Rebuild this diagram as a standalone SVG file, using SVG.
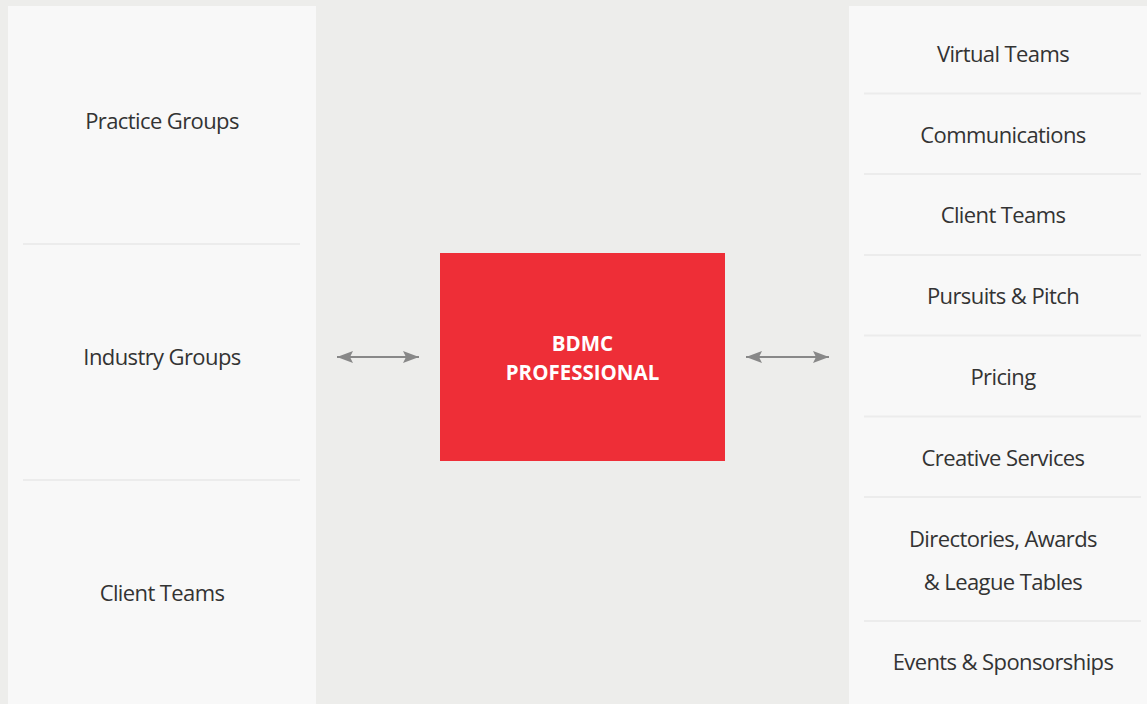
<svg xmlns="http://www.w3.org/2000/svg" width="1147" height="704" viewBox="0 0 1147 704">
  <defs>
    <style>
      .panel { fill: #f8f8f8; }
      .rule { stroke: #ececec; stroke-width: 2; }
      .label { font-family: "Open Sans", "Noto Sans", "Liberation Sans", sans-serif; font-size: 22px; fill: #333333; text-anchor: middle; letter-spacing: -0.6px; }
      .core { font-family: "Open Sans", "Noto Sans", "Liberation Sans", sans-serif; font-size: 20.5px; font-weight: 700; fill: #ffffff; text-anchor: middle; }
      .link { stroke: #888888; stroke-width: 2.2; fill: none; }
      .head { fill: #888888; }
    </style>
    <marker id="tip" viewBox="0 0 16 12" refX="16" refY="6" markerWidth="16" markerHeight="12" markerUnits="userSpaceOnUse" orient="auto-start-reverse">
      <path class="head" d="M16,6 L0,0 L3,6 L0,12 Z"/>
    </marker>
  </defs>

  <rect x="0" y="0" width="1147" height="704" fill="#ededeb"/>

  <!-- left column -->
  <g id="left-panel">
    <rect class="panel" x="8" y="6" width="308" height="698"/>
    <line class="rule" x1="23" y1="244" x2="300" y2="244"/>
    <line class="rule" x1="23" y1="480" x2="300" y2="480"/>
  </g>
  <g id="practice-groups"><text class="label" x="162" y="129">Practice Groups</text></g>
  <g id="industry-groups"><text class="label" x="162" y="365">Industry Groups</text></g>
  <g id="client-teams-left"><text class="label" x="162" y="601">Client Teams</text></g>

  <!-- centre node -->
  <g id="bdmc-professional">
    <rect x="440" y="253" width="285" height="208" fill="#ee2e37"/>
    <text class="core" x="582.5" y="351">BDMC</text>
    <text class="core" x="582.5" y="380">PROFESSIONAL</text>
  </g>

  <!-- right column -->
  <g id="right-panel">
    <rect class="panel" x="849" y="6" width="310" height="698"/>
    <line class="rule" x1="864" y1="93.5" x2="1141" y2="93.5"/>
    <line class="rule" x1="864" y1="174" x2="1141" y2="174"/>
    <line class="rule" x1="864" y1="255" x2="1141" y2="255"/>
    <line class="rule" x1="864" y1="335.5" x2="1141" y2="335.5"/>
    <line class="rule" x1="864" y1="416.5" x2="1141" y2="416.5"/>
    <line class="rule" x1="864" y1="497" x2="1141" y2="497"/>
    <line class="rule" x1="864" y1="621" x2="1141" y2="621"/>
  </g>
  <g id="virtual-teams"><text class="label" x="1003" y="62">Virtual Teams</text></g>
  <g id="communications"><text class="label" x="1003" y="143">Communications</text></g>
  <g id="client-teams-right"><text class="label" x="1003" y="223">Client Teams</text></g>
  <g id="pursuits-pitch"><text class="label" x="1003" y="304">Pursuits &amp; Pitch</text></g>
  <g id="pricing"><text class="label" x="1003" y="385">Pricing</text></g>
  <g id="creative-services"><text class="label" x="1003" y="466">Creative Services</text></g>
  <g id="directories-awards">
    <text class="label" x="1003" y="547">Directories, Awards</text>
    <text class="label" x="1003" y="590">&amp; League Tables</text>
  </g>
  <g id="events-sponsorships"><text class="label" x="1003" y="670">Events &amp; Sponsorships</text></g>

  <!-- two-way connectors -->
  <g id="connectors">
    <line class="link" x1="337" y1="357" x2="419" y2="357" marker-start="url(#tip)" marker-end="url(#tip)"/>
    <line class="link" x1="746" y1="357" x2="829" y2="357" marker-start="url(#tip)" marker-end="url(#tip)"/>
  </g>
</svg>
